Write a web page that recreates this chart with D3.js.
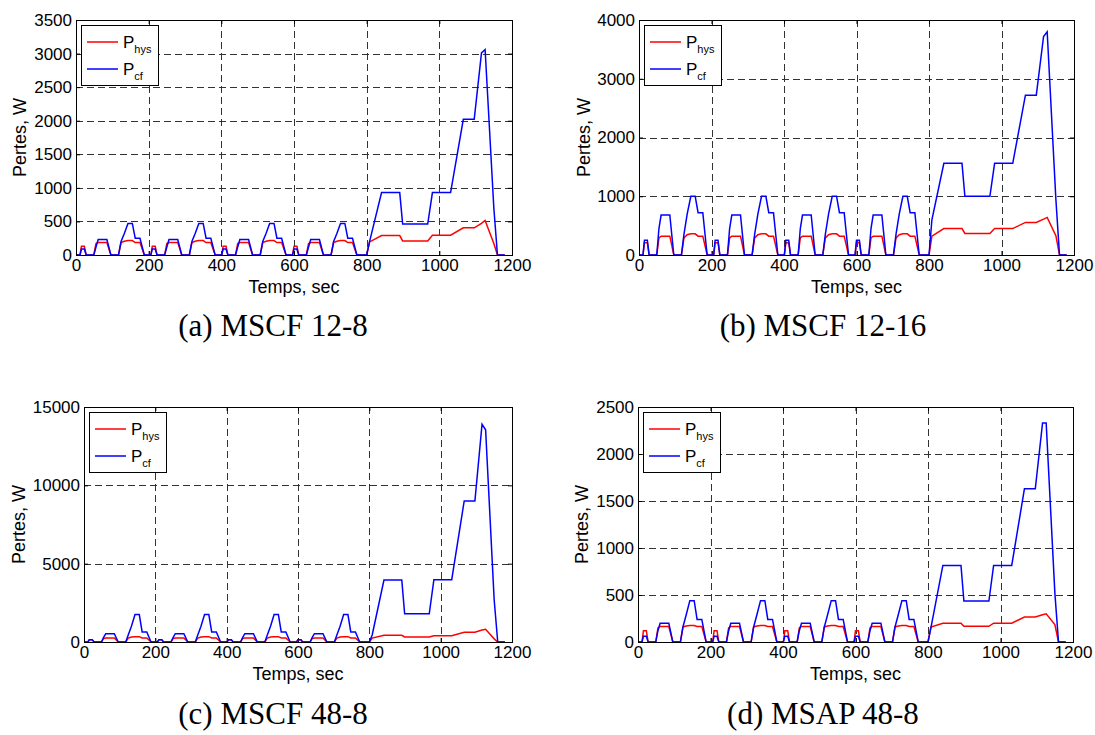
<!DOCTYPE html>
<html>
<head>
<meta charset="utf-8">
<script src="https://cdn.jsdelivr.net/npm/d3@7"></script>
<style>
body { margin: 0; background: #fff; }
svg { display: block; }
.tick text, .lbl { font-family: "Liberation Sans", Arial, Helvetica, sans-serif; fill: #000; }
.cap { font-family: "Liberation Serif", "Times New Roman", serif; fill: #000; }
</style>
</head>
<body>
<svg id="chart" width="1095" height="735"></svg>
<script>
// time breakpoints (sec): 4 urban cycles + extra-urban part
var time = [
  0, 11, 15, 23, 28, 49, 55, 61, 85, 96, 117, 124, 133, 143, 155, 163, 176, 188,
  195, 206, 210, 218, 223, 244, 250, 256, 280, 291, 312, 319, 328, 338, 350, 358, 371, 383,
  390, 401, 405, 413, 418, 439, 445, 451, 475, 486, 507, 514, 523, 533, 545, 553, 566, 578,
  585, 596, 600, 608, 613, 634, 640, 646, 670, 681, 702, 709, 718, 728, 740, 748, 761, 773,
  780, 800, 808, 841, 891, 899, 968, 981, 1031, 1066, 1096, 1116, 1126, 1150, 1160, 1180
];

// (a) MSCF 12-8
var hysA = [
  0, 0, 130, 130, 0, 0, 170, 185, 185, 0, 0, 185, 205, 215, 215, 185, 185, 0,
  0, 0, 130, 130, 0, 0, 170, 185, 185, 0, 0, 185, 205, 215, 215, 185, 185, 0,
  0, 0, 130, 130, 0, 0, 170, 185, 185, 0, 0, 185, 205, 215, 215, 185, 185, 0,
  0, 0, 130, 130, 0, 0, 170, 185, 185, 0, 0, 185, 205, 215, 215, 185, 185, 0,
  0, 0, 195, 290, 290, 210, 210, 295, 295, 405, 405, 470, 515, 170, 0, 0
];
var cfA = [
  0, 0, 90, 90, 0, 0, 120, 230, 230, 0, 0, 200, 320, 470, 470, 250, 250, 0,
  0, 0, 90, 90, 0, 0, 120, 230, 230, 0, 0, 200, 320, 470, 470, 250, 250, 0,
  0, 0, 90, 90, 0, 0, 120, 230, 230, 0, 0, 200, 320, 470, 470, 250, 250, 0,
  0, 0, 90, 90, 0, 0, 120, 230, 230, 0, 0, 200, 320, 470, 470, 250, 250, 0,
  0, 0, 200, 930, 930, 460, 460, 930, 930, 2020, 2020, 3010, 3060, 700, 0, 0
];

// (b) MSCF 12-16
var hysB = [
  0, 0, 210, 210, 0, 0, 290, 320, 320, 0, 0, 290, 345, 360, 360, 320, 320, 0,
  0, 0, 210, 210, 0, 0, 290, 320, 320, 0, 0, 290, 345, 360, 360, 320, 320, 0,
  0, 0, 210, 210, 0, 0, 290, 320, 320, 0, 0, 290, 345, 360, 360, 320, 320, 0,
  0, 0, 210, 210, 0, 0, 290, 320, 320, 0, 0, 290, 345, 360, 360, 320, 320, 0,
  0, 0, 320, 450, 450, 367, 367, 450, 450, 555, 555, 610, 640, 330, 0, 0
];
var cfB = [
  0, 0, 250, 250, 0, 0, 450, 680, 680, 0, 0, 350, 700, 1000, 1000, 720, 720, 0,
  0, 0, 250, 250, 0, 0, 450, 680, 680, 0, 0, 350, 700, 1000, 1000, 720, 720, 0,
  0, 0, 250, 250, 0, 0, 450, 680, 680, 0, 0, 350, 700, 1000, 1000, 720, 720, 0,
  0, 0, 250, 250, 0, 0, 450, 680, 680, 0, 0, 350, 700, 1000, 1000, 720, 720, 0,
  0, 0, 600, 1560, 1560, 1000, 1000, 1560, 1560, 2720, 2720, 3720, 3800, 950, 0, 0
];

// (c) MSCF 48-8
var hysC = [
  0, 0, 150, 150, 0, 0, 230, 255, 255, 0, 0, 250, 320, 340, 340, 255, 255, 0,
  0, 0, 150, 150, 0, 0, 230, 255, 255, 0, 0, 250, 320, 340, 340, 255, 255, 0,
  0, 0, 150, 150, 0, 0, 230, 255, 255, 0, 0, 250, 320, 340, 340, 255, 255, 0,
  0, 0, 150, 150, 0, 0, 230, 255, 255, 0, 0, 250, 320, 340, 340, 255, 255, 0,
  0, 0, 250, 426, 426, 320, 320, 405, 405, 620, 620, 760, 810, 200, 0, 0
];
var cfC = [
  0, 0, 150, 150, 0, 0, 300, 530, 530, 0, 0, 450, 1000, 1750, 1750, 640, 640, 0,
  0, 0, 150, 150, 0, 0, 300, 530, 530, 0, 0, 450, 1000, 1750, 1750, 640, 640, 0,
  0, 0, 150, 150, 0, 0, 300, 530, 530, 0, 0, 450, 1000, 1750, 1750, 640, 640, 0,
  0, 0, 150, 150, 0, 0, 300, 530, 530, 0, 0, 450, 1000, 1750, 1750, 640, 640, 0,
  0, 0, 450, 3950, 3950, 1800, 1800, 3980, 3980, 9000, 9000, 13900, 13550, 2700, 0, 0
];

// (d) MSAP 48-8
var hysD = [
  0, 0, 120, 120, 0, 0, 150, 165, 165, 0, 0, 160, 170, 175, 175, 165, 165, 0,
  0, 0, 120, 120, 0, 0, 150, 165, 165, 0, 0, 160, 170, 175, 175, 165, 165, 0,
  0, 0, 120, 120, 0, 0, 150, 165, 165, 0, 0, 160, 170, 175, 175, 165, 165, 0,
  0, 0, 120, 120, 0, 0, 150, 165, 165, 0, 0, 160, 170, 175, 175, 165, 165, 0,
  0, 0, 160, 200, 200, 167, 167, 200, 200, 266, 266, 290, 300, 185, 0, 0
];
var cfD = [
  0, 0, 60, 60, 0, 0, 120, 200, 200, 0, 0, 160, 290, 440, 440, 240, 240, 0,
  0, 0, 60, 60, 0, 0, 120, 200, 200, 0, 0, 160, 290, 440, 440, 240, 240, 0,
  0, 0, 60, 60, 0, 0, 120, 200, 200, 0, 0, 160, 290, 440, 440, 240, 240, 0,
  0, 0, 60, 60, 0, 0, 120, 200, 200, 0, 0, 160, 290, 440, 440, 240, 240, 0,
  0, 0, 150, 815, 815, 436, 436, 815, 815, 1630, 1630, 2330, 2330, 520, 0, 0
];

var xTicks = [0, 200, 400, 600, 800, 1000, 1200];
var yTicksA = [0, 500, 1000, 1500, 2000, 2500, 3000, 3500];
var yTicksB = [0, 1000, 2000, 3000, 4000];
var yTicksC = [0, 5000, 10000, 15000];
var yTicksD = [0, 500, 1000, 1500, 2000, 2500];
var captions = ["(a) MSCF 12-8", "(b) MSCF 12-16", "(c) MSCF 48-8", "(d) MSAP 48-8"];

var panels = [
  {left: 76,  top: 20,  right: 512,  bottom: 255, yTicks: yTicksA, hys: hysA, cf: cfA, labX: 26,  capX: 273, capY: 336},
  {left: 639, top: 20,  right: 1074, bottom: 255, yTicks: yTicksB, hys: hysB, cf: cfB, labX: 590, capX: 823, capY: 336},
  {left: 84,  top: 407, right: 512,  bottom: 642, yTicks: yTicksC, hys: hysC, cf: cfC, labX: 25,  capX: 273, capY: 724},
  {left: 638, top: 407, right: 1073, bottom: 642, yTicks: yTicksD, hys: hysD, cf: cfD, labX: 588, capX: 823, capY: 724}
];

var svg = d3.select("#chart");

panels.forEach(function(p, k) {
  var x = d3.scaleLinear().domain([0, 1200]).range([p.left, p.right]);
  var y = d3.scaleLinear().domain([0, p.yTicks[p.yTicks.length - 1]]).range([p.bottom, p.top]);
  var g = svg.append("g");

  // dashed grid
  g.selectAll(".gx").data(xTicks.slice(1, -1)).enter().append("line")
    .attr("x1", d => Math.round(x(d)) + 0.5).attr("x2", d => Math.round(x(d)) + 0.5)
    .attr("y1", p.top).attr("y2", p.bottom)
    .attr("stroke", "#333").attr("stroke-dasharray", "7,4");
  g.selectAll(".gy").data(p.yTicks.slice(1, -1)).enter().append("line")
    .attr("y1", d => Math.round(y(d)) + 0.5).attr("y2", d => Math.round(y(d)) + 0.5)
    .attr("x1", p.left).attr("x2", p.right)
    .attr("stroke", "#333").attr("stroke-dasharray", "7,4");

  // axes, ticks pointing inward
  var fmt = d3.format("d");
  var ax = [
    [d3.axisLeft(y).tickValues(p.yTicks).tickFormat(fmt), "translate(" + p.left + ",0)"],
    [d3.axisRight(y).tickValues(p.yTicks).tickFormat(""), "translate(" + p.right + ",0)"],
    [d3.axisBottom(x).tickValues(xTicks).tickFormat(fmt), "translate(0," + p.bottom + ")"],
    [d3.axisTop(x).tickValues(xTicks).tickFormat(""), "translate(0," + p.top + ")"]
  ];
  ax.forEach(function(a) {
    var s = g.append("g").attr("transform", a[1])
      .call(a[0].tickSizeInner(-4).tickSizeOuter(0).tickPadding(4));
    s.select(".domain").remove();
    s.selectAll(".tick line").attr("stroke", "#000");
    s.selectAll(".tick text").style("font-size", "17px");
  });

  // series
  var line = d3.line().x((d, i) => x(time[i])).y(d => y(d));
  g.append("path").datum(p.hys).attr("d", line)
    .attr("fill", "none").attr("stroke", "#ff0000").attr("stroke-width", 1.5);
  g.append("path").datum(p.cf).attr("d", line)
    .attr("fill", "none").attr("stroke", "#0000ff").attr("stroke-width", 1.5);

  // box
  g.append("rect")
    .attr("x", p.left + 0.5).attr("y", p.top + 0.5)
    .attr("width", p.right - p.left).attr("height", p.bottom - p.top)
    .attr("fill", "none").attr("stroke", "#000");

  // legend
  var lx = p.left + 5, ly = p.top + 5;
  var lg = g.append("g").attr("transform", "translate(" + lx + "," + ly + ")");
  lg.append("rect").attr("x", 0.5).attr("y", 0.5).attr("width", 77).attr("height", 60)
    .attr("fill", "#fff").attr("stroke", "#000");
  [["hys", "#ff0000", 17], ["cf", "#0000ff", 44]].forEach(function(r) {
    lg.append("line").attr("x1", 6).attr("x2", 37).attr("y1", r[2]).attr("y2", r[2])
      .attr("stroke", r[1]).attr("stroke-width", 1.5);
    var t = lg.append("text").attr("class", "lbl").attr("x", 42).attr("y", r[2] + 6)
      .style("font-size", "17px");
    t.append("tspan").text("P");
    t.append("tspan").attr("dy", 5).style("font-size", "11px").text(r[0]);
  });

  // axis labels
  g.append("text").attr("class", "lbl")
    .attr("x", (p.left + p.right) / 2).attr("y", p.bottom + 38)
    .attr("text-anchor", "middle").style("font-size", "18px").text("Temps, sec");
  g.append("text").attr("class", "lbl")
    .attr("transform", "translate(" + p.labX + "," + (p.top + p.bottom) / 2 + ") rotate(-90)")
    .attr("text-anchor", "middle").style("font-size", "18px").text("Pertes, W");

  // caption
  g.append("text").attr("class", "cap")
    .attr("x", p.capX).attr("y", p.capY)
    .attr("text-anchor", "middle").style("font-size", "31px").text(captions[k]);
});
</script>
</body>
</html>
